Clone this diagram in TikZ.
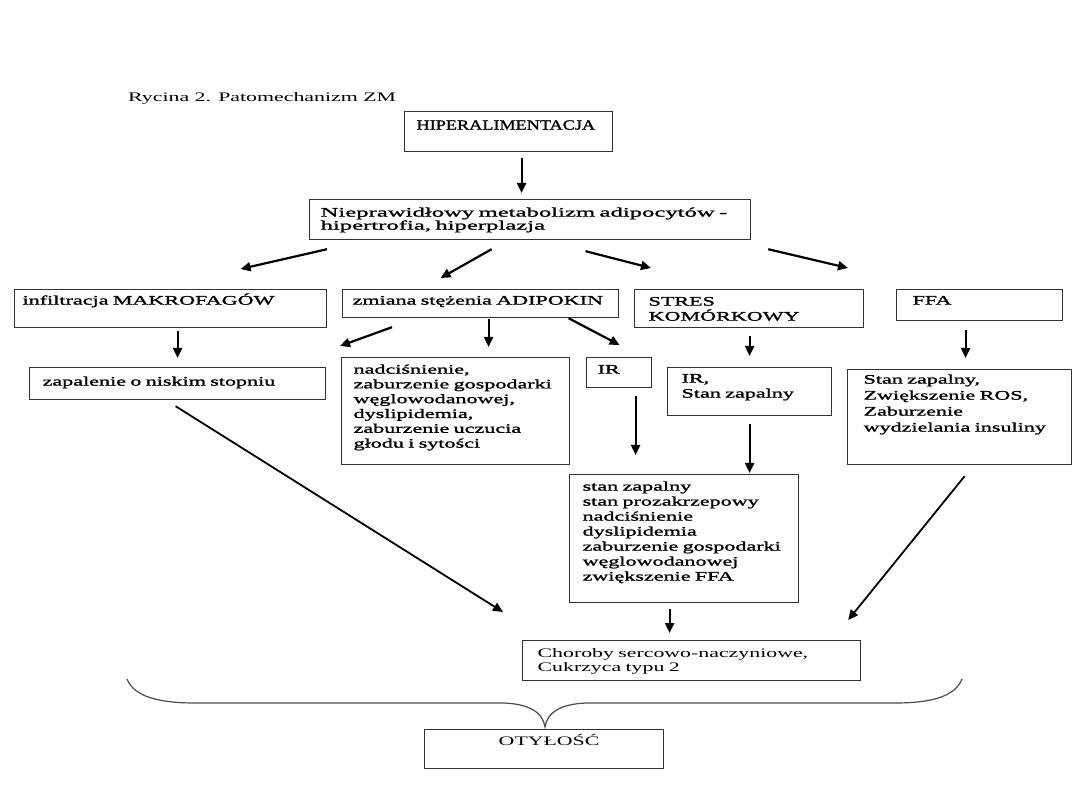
\documentclass[tikz,border=0pt]{standalone}
\usepackage{fontspec}
\setmainfont{Liberation Serif}
\newfontfamily\darkfont[FakeStretch=1.7,FakeBold=1.5]{Liberation Serif}
\newfontfamily\widefont[FakeStretch=1.9,FakeBold=1.5]{Liberation Serif}
\newfontfamily\hipfont[FakeStretch=1.3,FakeBold=1.5]{Liberation Serif}
\newfontfamily\lightfont[FakeStretch=1.68]{Liberation Serif}
\usetikzlibrary{arrows.meta,calc}
\tikzset{
  % text box, text sits at the top left
  tbox/.style={rectangle, draw=black!80, line width=1.2pt, anchor=north west, align=left,
               inner ysep=4pt, font=\darkfont\fontsize{13}{15}\selectfont},
  % text box in the lighter face
  lbox/.style={tbox, font=\lightfont\fontsize{13}{14}\selectfont},
  % step arrow
  arr/.style={-{Triangle[length=10pt,width=9pt]}, line width=2.2pt},
  % long diagonal arrow
  larr/.style={-{Triangle[length=10pt,width=9pt]}, line width=1.8pt},
  % curly brace
  bracepath/.style={draw=black!70, line width=1.2pt},
}
\begin{document}
\begin{tikzpicture}[x=1pt,y=-1pt]
  \path[fill=white] (0,0) rectangle (1080,810);
  \useasboundingbox (0,0) rectangle (1080,810);
  % caption
  \node[font=\lightfont\fontsize{13}{15}\selectfont, anchor=base west, inner sep=0pt] (rycina) at (128,102)
    {Rycina 2. Patomechanizm ZM};
  % top
  \node[tbox, font=\hipfont\fontsize{14}{16}\selectfont, inner xsep=12pt, text width=184pt,
        text height=14pt, text depth=18pt] (hip) at (404,111) {HIPERALIMENTACJA};
  \node[tbox, font=\widefont\fontsize{13}{13}\selectfont, inner xsep=11pt, text width=419pt,
        text height=13pt, text depth=19pt] (niep) at (309,199)
    {Nieprawidłowy metabolizm adipocytów -\\hipertrofia, hiperplazja};
  % second row
  \node[tbox, inner xsep=8pt, text width=296pt, text height=11pt, text depth=19pt] (infil) at (14,289)
    {infiltracja MAKROFAGÓW};
  \node[tbox, inner xsep=10pt, text width=256pt, text height=11pt, text depth=9pt] (zmiana) at (342,289)
    {zmiana stężenia ADIPOKIN};
  \node[tbox, inner xsep=14pt, text width=201pt, text height=12pt, text depth=18pt] (stres) at (634,289)
    {STRES\\KOMÓRKOWY};
  \node[tbox, inner xsep=16pt, text width=134pt, text height=11pt, text depth=12pt] (ffa) at (896,289)
    {FFA};
  % third row
  \node[tbox, inner xsep=13pt, text width=270pt, text height=14pt, text depth=10pt] (zap) at (29,367)
    {zapalenie o niskim stopniu};
  \node[tbox, font=\darkfont\fontsize{13}{14.8}\selectfont, inner xsep=12pt, text width=204pt,
        text height=12pt, text depth=87pt] (nadc) at (341,357)
    {nadciśnienie,\\zaburzenie gospodarki\\węglowodanowej,\\dyslipidemia,\\zaburzenie uczucia\\głodu i sytości};
  \node[tbox, inner xsep=11pt, text width=43pt, text height=12pt, text depth=10pt] (ir) at (586,357)
    {IR};
  \node[tbox, inner xsep=14pt, text width=136pt, text height=11pt, text depth=29pt] (irstan) at (667,367)
    {IR,\\Stan zapalny};
  \node[tbox, font=\darkfont\fontsize{13}{16}\selectfont, inner xsep=16pt, text width=192pt,
        text height=10pt, text depth=77pt] (ffastan) at (847,369)
    {Stan zapalny,\\Zwiększenie ROS,\\Zaburzenie\\wydzielania insuliny};
  % fourth row
  \node[tbox, inner xsep=13pt, text width=203pt, text height=12pt, text depth=108pt] (list) at (569,474)
    {stan zapalny\\stan prozakrzepowy\\nadciśnienie\\dyslipidemia\\zaburzenie gospodarki\\węglowodanowej\\zwiększenie FFA};
  \node[lbox, inner xsep=15pt, text width=308pt, text height=13pt, text depth=19pt] (chor) at (522,640)
    {Choroby sercowo-naczyniowe,\\Cukrzyca typu 2};
  \node[lbox, align=center, inner xsep=10pt, text width=219pt, text height=12pt, text depth=19pt] (oty) at (424,729)
    {\hspace*{10pt}OTYŁOŚĆ};
  % arrows
  \draw[arr] ($(hip.south)+(13,6)$) -- ($(niep.north)+(-8.5,-6)$);
  \draw[arr] ($(niep.south west)+(18,9)$) -- ($(infil.north)+(70,-20)$);
  \draw[arr] ($(niep.south)+(-38.5,9)$) -- ($(zmiana.north)+(-40,-11)$);
  \draw[arr] ($(niep.south)+(55.5,11)$) -- ($(stres.north west)+(17,-21)$);
  \draw[arr] ($(niep.south east)+(17,9)$) -- ($(ffa.north west)+(-48,-21)$);
  \draw[arr] ($(infil.south)+(7,3)$) -- ($(zap.north)+(0,-9)$);
  \draw[arr] ($(zmiana.south west)+(50,9)$) -- ($(nadc.north west)+(-1,-11)$);
  \draw[arr] ($(zmiana.south)+(8,1)$) -- ($(nadc.north)+(33,-10)$);
  \draw[arr] ($(zmiana.south)+(88,0)$) -- ($(ir.north)+(0.5,-12)$);
  \draw[arr] ($(stres.south)+(0.5,8)$) -- ($(irstan.north)+(0,-11)$);
  \draw[arr] ($(ffa.south)+(-14,9)$) -- ($(ffastan.north)+(6,-11)$);
  \draw[arr] ($(ir.south)+(16.5,8)$) -- ($(list.north)+(-48.5,-19)$);
  \draw[arr] ($(irstan.south)+(0,8)$) -- ($(list.north)+(65.5,-1)$);
  \draw[arr] ($(list.south)+(-14.5,6)$) -- ($(chor.north)+(-22,-7)$);
  \draw[larr] ($(zap.south)+(-2,6)$) -- ($(chor.north west)+(-19,-28)$);
  \draw[larr] ($(ffastan.south)+(5,11)$) -- ($(chor.north east)+(-13,-20)$);
  % brace over OTYŁOŚĆ
  \draw[bracepath] (127,679) .. controls (134,697) and (160,703) .. (195,703) -- (500,703)
    .. controls (528,703) and (543,712) .. (545,727)
    .. controls (547,712) and (562,703) .. (590,703) -- (895,703)
    .. controls (930,703) and (955,697) .. (962,679);
\end{tikzpicture}
\end{document}
